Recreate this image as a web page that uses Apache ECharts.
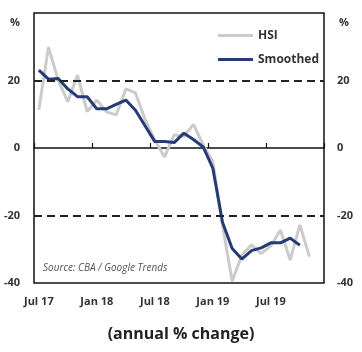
<!DOCTYPE html>
<html>
<head>
<meta charset="utf-8">
<script src="https://cdn.jsdelivr.net/npm/echarts@6/dist/echarts.min.js"></script>
<style>
html,body{margin:0;padding:0;background:#fff;}
#chart{width:362px;height:352px;}
</style>
</head>
<body>
<div id="chart"></div>
<script>
// Monthly categories, Jul 2017 - Dec 2019
var months = ['Jul 17','Aug 17','Sep 17','Oct 17','Nov 17','Dec 17',
  'Jan 18','Feb 18','Mar 18','Apr 18','May 18','Jun 18',
  'Jul 18','Aug 18','Sep 18','Oct 18','Nov 18','Dec 18',
  'Jan 19','Feb 19','Mar 19','Apr 19','May 19','Jun 19',
  'Jul 19','Aug 19','Sep 19','Oct 19','Nov 19','Dec 19'];

// Housing Sentiment Index, annual % change
var hsi = [11.3, 29.9, 20.1, 13.7, 21.6, 10.8, 14.2, 10.7, 9.8, 17.5,
  16.3, 8.3, 2.4, -2.7, 3.9, 3.5, 7.0, 0.9, -4.0, -22.8,
  -39.5, -31.7, -28.7, -31.3, -29.0, -24.3, -33.2, -22.8, -32.2, null];

// Smoothed series, annual % change
var smoothed = [23.1, 20.4, 20.6, 17.5, 15.2, 15.2, 11.6, 11.6, 12.9, 14.2,
  11.2, 6.5, 1.9, 1.9, 1.6, 4.4, 2.5, 0.3, -6.0, -22.0,
  -29.8, -32.9, -30.4, -29.6, -28.1, -28.1, -26.7, -28.8, null, null];

var yTicks = [-40, -20, 0, 20, 40];
var refLines = [20, -20];

var fontFam = '"Open Sans", "Liberation Sans", sans-serif';
var chart = echarts.init(document.getElementById('chart'), null, {renderer: 'canvas'});

var yLabel = {
  show: true, color: '#333', fontFamily: fontFam, fontSize: 11, fontWeight: 'bold',
  formatter: function (v) { return v === yTicks[yTicks.length - 1] ? '' : String(v); }
};

chart.setOption({
  animation: false,
  backgroundColor: '#fff',
  grid: {left: 34, right: 38, top: 13, bottom: 69, show: true, borderColor: '#111', borderWidth: 1.5, backgroundColor: 'transparent'},
  legend: {
    orient: 'vertical', left: 213, top: 22, itemWidth: 35, itemHeight: 3, itemGap: 7, icon: 'rect',
    textStyle: {color: '#333', fontFamily: fontFam, fontSize: 12, fontWeight: 'bold', lineHeight: 17},
    data: ['HSI', 'Smoothed']
  },
  xAxis: [
    {
      type: 'category', data: months, boundaryGap: true,
      axisLine: {show: true, onZero: true, lineStyle: {color: '#111', width: 1.5}},
      axisTick: {show: true, inside: true, length: 5, interval: 5, lineStyle: {color: '#111', width: 1.2}},
      axisLabel: {show: false}, splitLine: {show: false}
    },
    {
      type: 'category', data: months, boundaryGap: true, position: 'bottom',
      axisLine: {show: false}, axisTick: {show: false}, splitLine: {show: false},
      axisLabel: {show: true, interval: 5, margin: 13, color: '#333', fontFamily: fontFam, fontSize: 11, fontWeight: 'bold'}
    }
  ],
  yAxis: [
    {
      type: 'value', min: yTicks[0], max: yTicks[yTicks.length - 1], interval: 20, position: 'left',
      axisLine: {show: false}, axisTick: {show: false}, splitLine: {show: false},
      axisLabel: Object.assign({margin: 14}, yLabel)
    },
    {
      type: 'value', min: yTicks[0], max: yTicks[yTicks.length - 1], interval: 20, position: 'right',
      axisLine: {show: false}, axisTick: {show: false}, splitLine: {show: false},
      axisLabel: Object.assign({margin: 13, align: 'left'}, yLabel)
    }
  ],
  series: [
    {
      name: 'HSI', type: 'line', data: hsi, xAxisIndex: 0, yAxisIndex: 0,
      symbol: 'none', color: '#cbcbcb', lineStyle: {color: '#cbcbcb', width: 3}, z: 2
    },
    {
      name: 'Smoothed', type: 'line', data: smoothed, xAxisIndex: 0, yAxisIndex: 0,
      symbol: 'none', color: '#263b75', lineStyle: {color: '#263b75', width: 3}, z: 3,
      markLine: {
        silent: true, symbol: ['none', 'none'], label: {show: false},
        lineStyle: {color: '#222', type: [8, 5], width: 1.8},
        data: refLines.map(function (v) { return {yAxis: v}; })
      }
    }
  ],
  graphic: [
    {type: 'text', left: 10, top: 17, style: {text: '%', fill: '#333', font: 'bold 11px ' + fontFam}},
    {type: 'text', left: 339, top: 17, style: {text: '%', fill: '#333', font: 'bold 11px ' + fontFam}},
    {type: 'text', left: 43, top: 263, style: {text: 'Source: CBA / Google Trends', fill: '#555', font: 'italic 10px ' + fontFam}},
    {type: 'text', left: 'center', top: 326, style: {text: '(annual % change)', fill: '#222', font: 'bold 16px ' + fontFam}}
  ]
});
</script>
</body>
</html>
